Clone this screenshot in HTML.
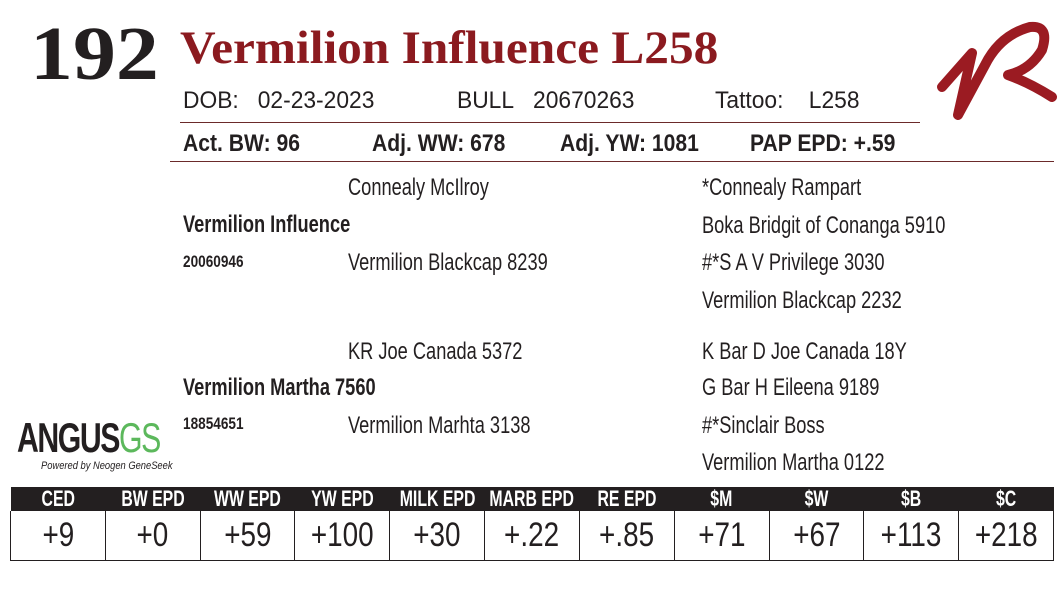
<!DOCTYPE html>
<html><head><meta charset="utf-8"><style>
body{margin:0;width:1064px;height:596px;background:#fff;position:relative;overflow:hidden;font-family:"Liberation Sans",sans-serif;color:#231f20}
.t{position:absolute;white-space:nowrap;line-height:1;transform-origin:left top}
.n{font-size:24px;transform:scaleX(0.76)}
.d{font-size:24px;transform:scaleX(0.95)}
.a{font-size:24px;font-weight:bold;transform:scaleX(0.88)}
.b{font-weight:bold}
.line{position:absolute;height:1px;background:#6b2a2a}
table{position:absolute;left:10px;top:487px;width:1044px;border-collapse:collapse;table-layout:fixed}
th{background:#231f20;color:#fff;font-weight:bold;font-size:22px;height:24px;padding:0;line-height:24px;white-space:nowrap;overflow:visible}
td{border:1.5px solid #231f20;border-top:none;font-size:34px;height:49px;text-align:center;padding:0;white-space:nowrap}
th span{display:inline-block;transform:scaleX(0.72);margin:0 -20px}
td span{display:inline-block;transform:scaleX(0.82);margin:0 -10px}
</style></head><body>
<div class="t" style="left:30px;top:16px;font-family:'Liberation Serif',serif;font-weight:bold;font-size:76px;transform:scaleX(1.13)">192</div>
<div class="t" style="left:180px;top:25px;font-family:'Liberation Serif',serif;font-weight:bold;font-size:47px;color:#8b1a1f;transform:scaleX(1.05)">Vermilion Influence L258</div>
<svg style="position:absolute;left:930px;top:15px" width="130" height="120" viewBox="0 0 130 120">
<path d="M12 72 L42 38 L28 100 L55 50 Q70 20 100 12 Q120 10 112 35 Q100 55 78 60 Q100 68 122 82" fill="none" stroke="#9b1b22" stroke-width="10" stroke-linecap="round" stroke-linejoin="round"/>
</svg>
<div class="t d" style="left:183px;top:89px">DOB:&nbsp;&nbsp;&nbsp;02-23-2023</div>
<div class="t d" style="left:457px;top:89px">BULL&nbsp;&nbsp;&nbsp;20670263</div>
<div class="t d" style="left:715px;top:89px">Tattoo:&nbsp;&nbsp;&nbsp;&nbsp;L258</div>
<div class="line" style="left:180px;top:122px;width:740px"></div>
<div class="t a" style="left:183px;top:132px">Act. BW: 96</div>
<div class="t a" style="left:372px;top:132px">Adj. WW: 678</div>
<div class="t a" style="left:560px;top:132px">Adj. YW: 1081</div>
<div class="t a" style="left:750px;top:132px">PAP EPD: +.59</div>
<div class="line" style="left:170px;top:161px;width:884px"></div>
<div class="t n" style="left:348px;top:176px">Connealy McIlroy</div>
<div class="t n b" style="left:183px;top:213px">Vermilion Influence</div>
<div class="t b" style="left:183px;top:253px;font-size:17px;transform:scaleX(0.8)">20060946</div>
<div class="t n" style="left:348px;top:251px">Vermilion Blackcap 8239</div>
<div class="t n" style="left:702px;top:176px">*Connealy Rampart</div>
<div class="t n" style="left:702px;top:214px">Boka Bridgit of Conanga 5910</div>
<div class="t n" style="left:702px;top:251px">#*S A V Privilege 3030</div>
<div class="t n" style="left:702px;top:289px">Vermilion Blackcap 2232</div>
<div class="t n" style="left:348px;top:340px">KR Joe Canada 5372</div>
<div class="t n b" style="left:183px;top:376px">Vermilion Martha 7560</div>
<div class="t b" style="left:183px;top:415px;font-size:17px;transform:scaleX(0.8)">18854651</div>
<div class="t n" style="left:348px;top:414px">Vermilion Marhta 3138</div>
<div class="t n" style="left:702px;top:340px">K Bar D Joe Canada 18Y</div>
<div class="t n" style="left:702px;top:376px">G Bar H Eileena 9189</div>
<div class="t n" style="left:702px;top:414px">#*Sinclair Boss</div>
<div class="t n" style="left:702px;top:451px">Vermilion Martha 0122</div>
<div class="t" style="left:17px;top:417px;font-size:42px;font-weight:bold;letter-spacing:-2px;transform:scaleX(0.72)">ANGUS<span style="color:#5cb85c;font-weight:normal">GS</span></div>
<div class="t" style="left:41px;top:461px;font-size:11px;font-style:italic;transform:scaleX(0.85)">Powered by Neogen GeneSeek</div>
<table><tr><th><span>CED</span></th><th><span>BW EPD</span></th><th><span>WW EPD</span></th><th><span>YW EPD</span></th><th><span>MILK EPD</span></th><th><span>MARB EPD</span></th><th><span>RE EPD</span></th><th><span>$M</span></th><th><span>$W</span></th><th><span>$B</span></th><th><span>$C</span></th></tr>
<tr><td><span>+9</span></td><td><span>+0</span></td><td><span>+59</span></td><td><span>+100</span></td><td><span>+30</span></td><td><span>+.22</span></td><td><span>+.85</span></td><td><span>+71</span></td><td><span>+67</span></td><td><span>+113</span></td><td><span>+218</span></td></tr></table>
</body></html>
